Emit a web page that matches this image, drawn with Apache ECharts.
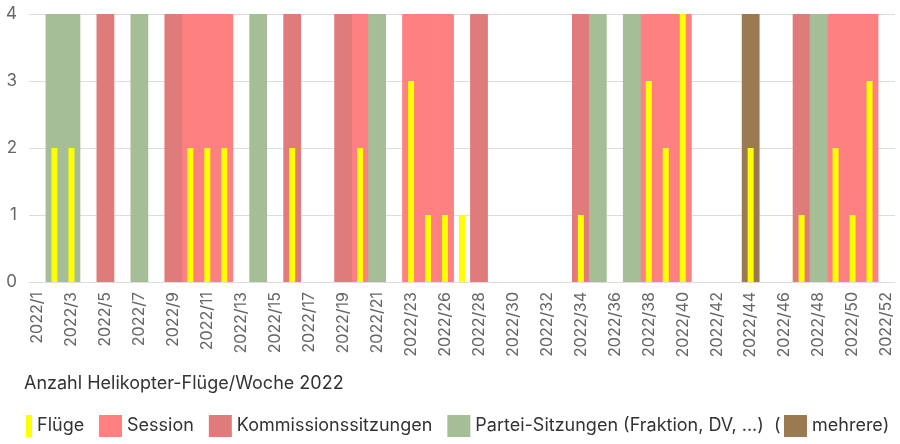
<!DOCTYPE html>
<html>
<head>
<meta charset="utf-8">
<script src="https://cdn.jsdelivr.net/npm/echarts@6/dist/echarts.min.js"></script>
<style>
html,body{margin:0;padding:0;background:#fff;}
#chart{width:900px;height:444px;}
</style>
</head>
<body>
<div id="chart"></div>
<script>
// Calendar weeks shown on the axis (week 25 is not in the data)
const weeks = ['2022/1','2022/2','2022/3','2022/4','2022/5','2022/6','2022/7','2022/8','2022/9','2022/10',
  '2022/11','2022/12','2022/13','2022/14','2022/15','2022/16','2022/17','2022/18','2022/19','2022/20',
  '2022/21','2022/22','2022/23','2022/24','2022/26','2022/27','2022/28','2022/29','2022/30','2022/31',
  '2022/32','2022/33','2022/34','2022/35','2022/36','2022/37','2022/38','2022/39','2022/40','2022/41',
  '2022/42','2022/43','2022/44','2022/45','2022/46','2022/47','2022/48','2022/49','2022/50','2022/51','2022/52'];

// Helicopter flights per week
const flightWeeks  = ['2022/2','2022/3','2022/10','2022/11','2022/12','2022/16','2022/20','2022/23','2022/24','2022/26',
  '2022/27','2022/34','2022/38','2022/39','2022/40','2022/44','2022/47','2022/49','2022/50','2022/51'];
const flightCounts = [2,2,2,2,2,2,2,3,1,1,
  1,1,3,2,4,2,1,2,1,3];

// Weeks with events (full-height background columns)
const sessionWeeks    = ['2022/10','2022/11','2022/12','2022/20','2022/23','2022/24','2022/26','2022/38','2022/39','2022/40','2022/49','2022/50','2022/51'];
const kommissionWeeks = ['2022/5','2022/9','2022/16','2022/19','2022/28','2022/34','2022/47'];
const parteiWeeks     = ['2022/2','2022/3','2022/7','2022/14','2022/21','2022/35','2022/37','2022/48'];
const mehrereWeeks    = ['2022/44'];

const yMax = 4;
const yTicks = [0,1,2,3,4];

const names = {
  flights: 'Flüge',
  session: 'Session',
  kommission: 'Kommissionssitzungen',
  partei: 'Partei-Sitzungen (Fraktion, DV, ...)  (',
  mehrere: 'mehrere)'
};

function bg(list){ return weeks.map(w => list.includes(w) ? yMax : '-'); }
const flightData = weeks.map(w => { const i = flightWeeks.indexOf(w); return i >= 0 ? flightCounts[i] : '-'; });

const chart = echarts.init(document.getElementById('chart'), null, {renderer:'canvas'});
const font = 'Inter, "Noto Sans", sans-serif';

const bgSeries = (name, list, color) => ({
  name, type:'bar', xAxisIndex:0, data: bg(list), barGap:'-100%', barWidth:17.8,
  itemStyle:{color, borderWidth:0}, emphasis:{disabled:true}, animation:false, z:1
});

const legendText = {fontSize:18, color:'#333', fontFamily:font};

chart.setOption({
  animation:false,
  textStyle:{fontFamily:font},
  title:{
    text:'Anzahl Helikopter-Flüge/Woche 2022', left:19, top:370,
    textStyle:{fontSize:18, fontWeight:'normal', color:'#333', fontFamily:font}
  },
  legend:[
    {left:21, top:410, itemWidth:6, itemHeight:22, itemGap:14, textStyle:legendText,
     data:[{name:names.flights, icon:'rect'}]},
    {left:94, top:410, itemWidth:23, itemHeight:22, itemGap:15, textStyle:legendText,
     data:[{name:names.session, icon:'rect'},{name:names.kommission, icon:'rect'},{name:names.partei, icon:'rect'}]},
    {left:779, top:410, itemWidth:23, itemHeight:22, itemGap:14, textStyle:legendText,
     data:[{name:names.mehrere, icon:'rect'}]}
  ],
  grid:{left:29, right:5, top:14, bottom:162, containLabel:false},
  xAxis:[
    {type:'category', data:weeks, boundaryGap:true,
     axisTick:{show:false}, axisLine:{show:true, lineStyle:{color:'#ddd'}},
     axisLabel:{interval:1, rotate:90, fontSize:16, color:'#666', margin:10, fontFamily:font}},
    {type:'category', data:weeks, show:false}
  ],
  yAxis:{
    type:'value', min:yTicks[0], max:yTicks[yTicks.length-1], interval:1,
    axisLabel:{fontSize:17, color:'#666', margin:12, fontFamily:font},
    splitLine:{lineStyle:{color:'#ddd'}}, axisLine:{show:false}, axisTick:{show:false}
  },
  series:[
    bgSeries(names.session, sessionWeeks, '#ff8080'),
    bgSeries(names.kommission, kommissionWeeks, '#df7b7b'),
    bgSeries(names.partei, parteiWeeks, '#a6be98'),
    bgSeries(names.mehrere, mehrereWeeks, '#9b7a52'),
    {name:names.flights, type:'bar', xAxisIndex:1, data:flightData, barWidth:6,
     itemStyle:{color:'#ffff00'}, z:5, animation:false}
  ]
});
</script>
</body>
</html>
